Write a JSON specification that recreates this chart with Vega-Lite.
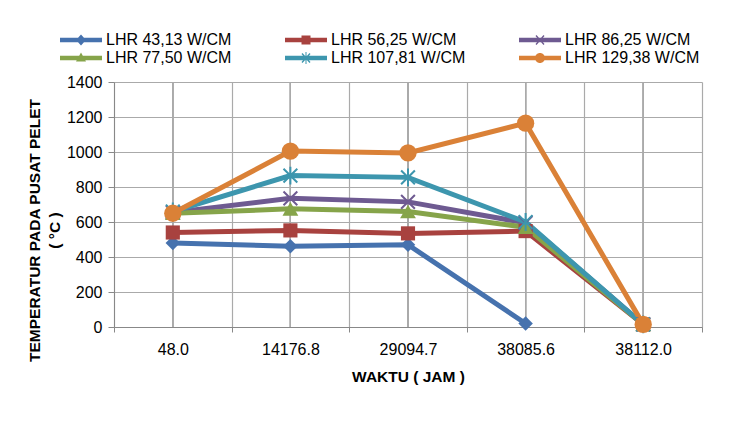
{
  "$schema": "https://vega.github.io/schema/vega-lite/v6.json",
  "width": 588,
  "height": 245,
  "autosize": "none",
  "padding": {"left": 114, "top": 82, "right": 28, "bottom": 99},
  "background": "white",
  "config": {
    "font": "Liberation Sans",
    "view": {"stroke": null},
    "axis": {"labelFont": "Liberation Sans", "titleFont": "Liberation Sans", "labelColor": "#000", "titleColor": "#000"},
    "legend": {"labelFont": "Liberation Sans"}
  },
  "resolve": {"legend": {"color": "independent", "shape": "independent"}},
  "data": {
    "values": [
      {"t": "48.0", "s": "LHR 43,13 W/CM", "v": 480},
      {"t": "14176.8", "s": "LHR 43,13 W/CM", "v": 462},
      {"t": "29094.7", "s": "LHR 43,13 W/CM", "v": 470},
      {"t": "38085.6", "s": "LHR 43,13 W/CM", "v": 20},
      {"t": "48.0", "s": "LHR 56,25 W/CM", "v": 540},
      {"t": "14176.8", "s": "LHR 56,25 W/CM", "v": 552},
      {"t": "29094.7", "s": "LHR 56,25 W/CM", "v": 535},
      {"t": "38085.6", "s": "LHR 56,25 W/CM", "v": 548},
      {"t": "38112.0", "s": "LHR 56,25 W/CM", "v": 15},
      {"t": "48.0", "s": "LHR 86,25 W/CM", "v": 655},
      {"t": "14176.8", "s": "LHR 86,25 W/CM", "v": 735},
      {"t": "29094.7", "s": "LHR 86,25 W/CM", "v": 715},
      {"t": "38085.6", "s": "LHR 86,25 W/CM", "v": 595},
      {"t": "38112.0", "s": "LHR 86,25 W/CM", "v": 15},
      {"t": "48.0", "s": "LHR 77,50 W/CM", "v": 650},
      {"t": "14176.8", "s": "LHR 77,50 W/CM", "v": 675},
      {"t": "29094.7", "s": "LHR 77,50 W/CM", "v": 660},
      {"t": "38085.6", "s": "LHR 77,50 W/CM", "v": 570},
      {"t": "38112.0", "s": "LHR 77,50 W/CM", "v": 15},
      {"t": "48.0", "s": "LHR 107,81 W/CM", "v": 660},
      {"t": "14176.8", "s": "LHR 107,81 W/CM", "v": 865},
      {"t": "29094.7", "s": "LHR 107,81 W/CM", "v": 855},
      {"t": "38085.6", "s": "LHR 107,81 W/CM", "v": 600},
      {"t": "38112.0", "s": "LHR 107,81 W/CM", "v": 15},
      {"t": "48.0", "s": "LHR 129,38 W/CM", "v": 650},
      {"t": "14176.8", "s": "LHR 129,38 W/CM", "v": 1005},
      {"t": "29094.7", "s": "LHR 129,38 W/CM", "v": 995},
      {"t": "38085.6", "s": "LHR 129,38 W/CM", "v": 1165},
      {"t": "38112.0", "s": "LHR 129,38 W/CM", "v": 15}
    ]
  },
  "encoding": {
    "x": {
      "field": "t", "type": "ordinal",
      "sort": ["48.0", "14176.8", "29094.7", "38085.6", "38112.0"],
      "scale": {"type": "band", "paddingInner": 0, "paddingOuter": 0},
      "axis": {
        "title": "WAKTU ( JAM )", "titleFontSize": 15.5, "titleFontWeight": "bold",
        "titlePadding": 12,
        "labelAngle": 0, "labelFontSize": 16, "labelPadding": 9,
        "tickBand": "extent", "tickSize": 5, "tickColor": "#888", "domainColor": "#888",
        "grid": true, "gridColor": "#aaa", "gridWidth": 1.2
      }
    },
    "y": {
      "field": "v", "type": "quantitative",
      "scale": {"domain": [0, 1400], "nice": false},
      "axis": {
        "values": [0, 200, 400, 600, 800, 1000, 1200, 1400], "format": "d",
        "title": ["TEMPERATUR PADA PUSAT PELET", "( °C )"],
        "titleFontSize": 15.5, "titleFontWeight": "bold", "titleLineHeight": 20,
        "titleAngle": -90, "titleAlign": "center", "titleBaseline": "top",
        "titleX": -87, "titleY": 148,
        "labelFontSize": 16, "labelPadding": 6,
        "tickSize": 6, "tickColor": "#888", "domainColor": "#888",
        "grid": true, "gridColor": "#aaa", "gridWidth": 1.2
      }
    }
  },
  "layer": [
    {
      "mark": {"type": "rule", "color": "#aaa", "strokeWidth": 1.2},
      "encoding": {"y": null}
    },
    {
      "mark": {"type": "line", "strokeWidth": 5},
      "encoding": {
        "color": {"field": "s", "type": "nominal", "legend": null,
          "scale": {"domain": ["LHR 43,13 W/CM", "LHR 56,25 W/CM", "LHR 86,25 W/CM", "LHR 77,50 W/CM", "LHR 107,81 W/CM", "LHR 129,38 W/CM"],
                    "range": ["#4672AE", "#A8423F", "#6E5A91", "#86A44A", "#3D96AE", "#DA8137"]}}
      }
    },
    {
      "transform": [{"filter": "datum.s == 'LHR 43,13 W/CM'"}],
      "mark": {"type": "point", "shape": "diamond", "filled": true, "opacity": 1, "size": 210},
      "encoding": {"color": {"field": "s", "type": "nominal", "legend": null}}
    },
    {
      "transform": [{"filter": "datum.s == 'LHR 56,25 W/CM'"}],
      "mark": {"type": "point", "shape": "square", "filled": true, "opacity": 1, "size": 200},
      "encoding": {"color": {"field": "s", "type": "nominal", "legend": null}}
    },
    {
      "transform": [{"filter": "datum.s == 'LHR 86,25 W/CM'"}],
      "mark": {"type": "point", "shape": "M-1,-1L1,1M-1,1L1,-1", "filled": false, "opacity": 1, "size": 190, "strokeWidth": 2},
      "encoding": {"color": {"field": "s", "type": "nominal", "legend": null}}
    },
    {
      "transform": [{"filter": "datum.s == 'LHR 77,50 W/CM'"}],
      "mark": {"type": "point", "shape": "triangle-up", "filled": true, "opacity": 1, "size": 250},
      "encoding": {"color": {"field": "s", "type": "nominal", "legend": null}}
    },
    {
      "transform": [{"filter": "datum.s == 'LHR 107,81 W/CM'"}],
      "mark": {"type": "point", "shape": "M-1,-1L1,1M-1,1L1,-1M0,-1.3L0,1.3", "filled": false, "opacity": 1, "size": 190, "strokeWidth": 2},
      "encoding": {"color": {"field": "s", "type": "nominal", "legend": null}}
    },
    {
      "transform": [{"filter": "datum.s == 'LHR 129,38 W/CM'"}],
      "mark": {"type": "point", "shape": "circle", "filled": true, "opacity": 1, "size": 300},
      "encoding": {"color": {"field": "s", "type": "nominal", "legend": null}}
    },
    {
      "mark": {"type": "point", "filled": true, "opacity": 0, "size": 10},
      "encoding": {
        "color": {"field": "s", "type": "nominal",
          "legend": {"title": null, "orient": "none", "direction": "horizontal", "legendX": -57, "legendY": -50, "columns": 3,
            "columnPadding": 50, "rowPadding": 2, "symbolSize": 100, "symbolOpacity": 1,
            "symbolStrokeWidth": 0, "labelFontSize": 16, "labelOffset": 33, "labelColor": "#000"}},
        "shape": {"field": "s", "type": "nominal",
          "scale": {"domain": ["LHR 43,13 W/CM", "LHR 56,25 W/CM", "LHR 86,25 W/CM", "LHR 77,50 W/CM", "LHR 107,81 W/CM", "LHR 129,38 W/CM"],
            "range": [
              "M-1,-0.45H7.4V0.45H-1Z M3.2,-1.1L4.2,0L3.2,1.1L2.2,0Z",
              "M-1,-0.45H7.4V0.45H-1Z M2.3,-0.9H4.1V0.9H2.3Z",
              "M-1,-0.45H7.4V0.45H-1Z M2.5,-1L4.1,0.8L3.9,1L2.3,-0.8Z M3.9,-1L4.1,-0.8L2.5,1L2.3,0.8Z",
              "M-1,-0.45H7.4V0.45H-1Z M3.2,-1.1L4.2,0.7L2.2,0.7Z",
              "M-1,-0.45H7.4V0.45H-1Z M2.5,-1L4.1,0.8L3.9,1L2.3,-0.8Z M3.9,-1L4.1,-0.8L2.5,1L2.3,0.8Z M3.1,-1.2H3.3V1.2H3.1Z",
              "M-1,-0.45H7.4V0.45H-1Z M4.2,0A1,1 0 1,1 2.2,0A1,1 0 1,1 4.2,0Z"
            ]},
          "legend": {"title": null, "orient": "none", "direction": "horizontal", "legendX": -57, "legendY": -50, "columns": 3,
            "columnPadding": 50, "rowPadding": 2, "symbolSize": 100, "symbolOpacity": 1,
            "symbolStrokeWidth": 0, "labelFontSize": 16, "labelOffset": 33, "labelColor": "#000"}}
      }
    }
  ]
}
